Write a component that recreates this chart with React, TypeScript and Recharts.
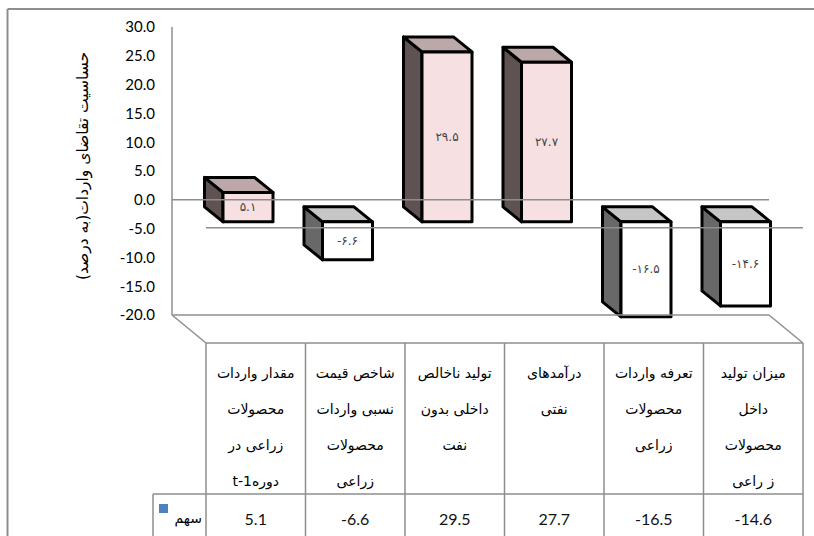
import { BarChart, Bar, XAxis, YAxis, ReferenceLine } from 'recharts';

// category labels, one entry per table column (lines as shown in the cell)
const categoryLines = [
  ['مقدار واردات', 'محصولات', 'زراعی در', 'دورهt-1'],
  ['شاخص قیمت', 'نسبی واردات', 'محصولات', 'زراعی'],
  ['تولید ناخالص', 'داخلی بدون', 'نفت'],
  ['درآمدهای', 'نفتی'],
  ['تعرفه واردات', 'محصولات', 'زراعی'],
  ['میزان تولید', 'داخل', 'محصولات', 'ز راعی'],
];
const values = [5.1, -6.6, 29.5, 27.7, -16.5, -14.6];
const yTicks = [-20, -15, -10, -5, 0, 5, 10, 15, 20, 25, 30];
const seriesName = 'سهم';
const yTitle = 'حساسیت تقاضای واردات(به درصد)';

const data = categoryLines.map((lines, i) => ({ name: lines.join(' '), value: values[i] }));

const W = 814;
const H = 536;
const FLOOR = 315;
const PLOT_L = 172;
const PLOT_R = 769;
const COL_W = (PLOT_R - PLOT_L) / categoryLines.length;
const FRONT_DX = 34;
const FRONT_DY = 28;
const BOX_DX = 26;
const BOX_DY = 22;
const DEPTH_X = -18.5;
const DEPTH_Y = -15;
const TABLE_TOP = FLOOR + FRONT_DY;
const ROW_SEP = 494;
const GRAY = '#8e8e8e';
const LATIN = "Lato, 'DejaVu Sans', sans-serif";
const ARABIC = "'DejaVu Sans', sans-serif";

const faDigits = '۰۱۲۳۴۵۶۷۸۹';
const toFa = (v: number) => v.toFixed(1).replace(/\d/g, (d) => faDigits[+d]);

function Box3D(props: any) {
  const { x, y, width, height, payload } = props;
  const v = payload.value as number;
  const top = Math.min(y, y + height);
  const h = Math.abs(height);
  const fx = x + BOX_DX;
  const fy = top + BOX_DY;
  const bx = fx + DEPTH_X;
  const by = fy + DEPTH_Y;
  const pos = v >= 0;
  const front = pos ? '#f6e0e1' : '#ffffff';
  const side = pos ? '#5e5252' : '#686868';
  const lid = pos ? '#bca8a9' : '#c6c6c6';
  return (
    <g stroke="#000" strokeWidth={3} strokeLinejoin="round">
      <polygon points={`${fx},${fy} ${bx},${by} ${bx},${by + h} ${fx},${fy + h}`} fill={side} />
      <polygon points={`${fx},${fy} ${fx + width},${fy} ${bx + width},${by} ${bx},${by}`} fill={lid} />
      <rect x={fx} y={fy} width={width} height={h} fill={front} />
      <text
        x={fx + width / 2}
        y={fy + h / 2}
        textAnchor="middle"
        dominantBaseline="central"
        stroke="none"
        fill="#444"
        fontSize={12}
        fontFamily={ARABIC}
      >
        {toFa(v)}
      </text>
    </g>
  );
}

function TableTick(props: any) {
  const { x, payload } = props;
  const i = payload.index as number;
  const cx = x + FRONT_DX;
  const left = cx - COL_W / 2;
  const right = cx + COL_W / 2;
  const last = i === categoryLines.length - 1;
  return (
    <g>
      <line x1={left} y1={TABLE_TOP} x2={right} y2={TABLE_TOP} stroke={GRAY} strokeWidth={1.5} />
      <line x1={left} y1={TABLE_TOP} x2={left} y2={H + 4} stroke={GRAY} strokeWidth={1.5} />
      {last && <line x1={right} y1={TABLE_TOP} x2={right} y2={H + 4} stroke={GRAY} strokeWidth={1.5} />}
      <line x1={left} y1={ROW_SEP} x2={right} y2={ROW_SEP} stroke={GRAY} strokeWidth={1.5} />
      {i === 0 && (
        <g>
          <line x1={PLOT_L} y1={FLOOR} x2={PLOT_L + FRONT_DX} y2={TABLE_TOP} stroke={GRAY} strokeWidth={1.5} />
          <line x1={153} y1={ROW_SEP} x2={left} y2={ROW_SEP} stroke={GRAY} strokeWidth={1.5} />
          <line x1={153} y1={ROW_SEP} x2={153} y2={H + 4} stroke={GRAY} strokeWidth={1.5} />
          <rect x={159} y={504} width={9} height={9} fill="#4f81bd" />
          <text x={202} y={518} textAnchor="start" direction="rtl" dominantBaseline="central" fontSize={14} fontFamily={ARABIC} fill="#000">
            {seriesName}
          </text>
        </g>
      )}
      {last && (
        <line x1={PLOT_R} y1={FLOOR} x2={PLOT_R + FRONT_DX} y2={TABLE_TOP} stroke={GRAY} strokeWidth={1.5} />
      )}
      {categoryLines[i].map((t, k) => (
        <text
          key={k}
          x={cx}
          y={373 + k * 36}
          textAnchor="middle"
          direction="rtl"
          dominantBaseline="central"
          fontSize={14}
          fontFamily={ARABIC}
          fill="#000"
        >
          {t}
        </text>
      ))}
      <text x={cx} y={518} textAnchor="middle" dominantBaseline="central" fontSize={16} fontFamily={LATIN} fill="#111">
        {values[i].toFixed(1)}
      </text>
    </g>
  );
}

export default function App() {
  return (
    <div style={{ position: 'absolute', left: 0, top: 0, width: W, height: H, overflow: 'hidden', background: '#fff' }}>
      <svg width={W} height={H} style={{ position: 'absolute', left: 0, top: 0 }}>
        <line x1={7.5} y1={9} x2={W} y2={9} stroke={GRAY} strokeWidth={2} />
        <line x1={7.5} y1={9} x2={7.5} y2={H} stroke={GRAY} strokeWidth={2} />
        <text
          transform="translate(83,166) rotate(-90)"
          textAnchor="middle"
          direction="rtl"
          dominantBaseline="central"
          fontSize={15.5}
          fontFamily={ARABIC}
          fill="#000"
        >
          {yTitle}
        </text>
      </svg>
      <div style={{ position: 'absolute', left: 0, top: 0 }}>
        <BarChart width={W} height={H} data={data} margin={{ top: 27, right: W - PLOT_R, bottom: 0, left: 0 }}>
          <ReferenceLine y={0} stroke={GRAY} strokeWidth={1.5} />
          <XAxis
            dataKey="name"
            height={H - FLOOR}
            interval={0}
            tickLine={false}
            axisLine={{ stroke: GRAY, strokeWidth: 1.5 }}
            tick={<TableTick />}
          />
          <YAxis
            width={PLOT_L}
            domain={[-20, 30]}
            ticks={yTicks}
            interval={0}
            tickLine={false}
            tickSize={6}
            tickMargin={11}
            axisLine={{ stroke: GRAY, strokeWidth: 1.5 }}
            tickFormatter={(v: number) => v.toFixed(1)}
            tick={{ fontSize: 15, fill: '#000', fontFamily: LATIN }}
          />
          <Bar dataKey="value" barSize={50} shape={<Box3D />} isAnimationActive={false} />
          <ReferenceLine
            y={0}
            stroke={GRAY}
            shape={(p: any) => (
              <line
                x1={p.x1 + FRONT_DX}
                y1={p.y1 + FRONT_DY}
                x2={p.x2 + FRONT_DX}
                y2={p.y2 + FRONT_DY}
                stroke={GRAY}
                strokeWidth={1.5}
              />
            )}
          />
        </BarChart>
      </div>
    </div>
  );
}
